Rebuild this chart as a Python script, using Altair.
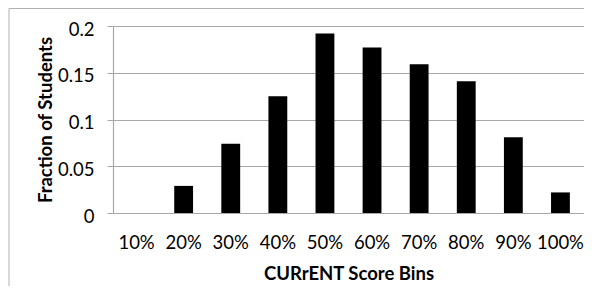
import altair as alt
import pandas as pd

bins = ["10%", "20%", "30%", "40%", "50%", "60%", "70%", "80%", "90%", "100%"]
fractions = [0.0, 0.029, 0.074, 0.125, 0.192, 0.177, 0.159, 0.141, 0.081, 0.022]
y_ticks = [0, 0.05, 0.1, 0.15, 0.2]

df = pd.DataFrame({"bin": bins, "frac": fractions})

FONT = "Lato"
GRAY = "#a8a8a8"

bars = alt.Chart(df).mark_bar(color="black").encode(
    x=alt.X(
        "bin:N",
        sort=bins,
        scale=alt.Scale(paddingInner=0.6, paddingOuter=0.3),
        axis=alt.Axis(
            title="CURrENT Score Bins",
            labelAngle=0,
            ticks=False,
            tickSize=0,
            labelPadding=35,
            labelBaseline="alphabetic",
            labelFont=FONT,
            labelFontSize=18.5,
            labelColor="#000000",
            titleFont=FONT,
            titleFontSize=18.5,
            titleFontWeight="bold",
            titleColor="#000000",
            titleBaseline="alphabetic",
            titleY=66,
            domainColor=GRAY,
            domainWidth=1.2,
            grid=False,
        ),
    ),
    y=alt.Y(
        "frac:Q",
        scale=alt.Scale(domain=[0, 0.2], nice=False),
        axis=alt.Axis(
            title="Fraction of Students",
            values=y_ticks,
            labelExpr="'' + datum.value",
            tickSize=6,
            tickColor=GRAY,
            labelPadding=13,
            labelBaseline="alphabetic",
            labelOffset=9,
            labelFont=FONT,
            labelFontSize=18.5,
            labelColor="#000000",
            titleFont=FONT,
            titleFontSize=18.5,
            titleFontWeight="bold",
            titleColor="#000000",
            titleBaseline="alphabetic",
            titleX=-62,
            domainColor=GRAY,
            domainWidth=1.2,
            grid=True,
            gridColor=GRAY,
            gridWidth=1,
        ),
    ),
)

one = pd.DataFrame({"a": [0]})
left_border = alt.Chart(one).mark_rule(color="#b0b0b0", strokeWidth=1).encode(
    x=alt.value(-104), y=alt.value(-17.5), y2=alt.value(262)
)
top_border = alt.Chart(one).mark_rule(color="#b0b0b0", strokeWidth=1).encode(
    x=alt.value(-104), x2=alt.value(480), y=alt.value(-17.5)
)

chart = alt.layer(bars, left_border, top_border).properties(
    width=471,
    height=187,
    padding={"left": 105, "top": 18, "right": 0, "bottom": 73},
    autosize=alt.AutoSizeParams(type="none"),
    background="white",
).configure_view(stroke=None)

chart.save("out.html", embed_options={"renderer": "svg", "actions": False})
